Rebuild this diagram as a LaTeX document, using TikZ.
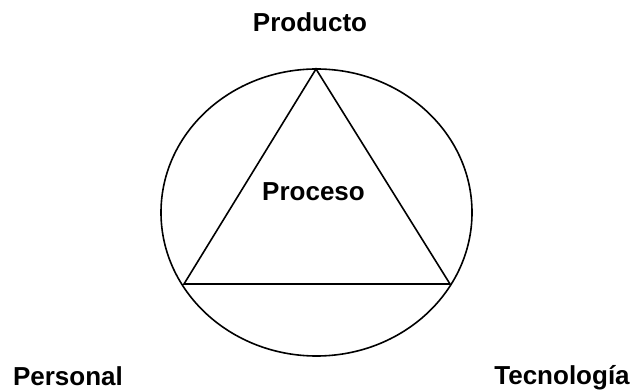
\documentclass[tikz,border=0pt]{standalone}
\usepackage{fontspec}
\setmainfont{Liberation Sans}
\usetikzlibrary{shapes.geometric}
\begin{document}
\begin{tikzpicture}
            [x=1pt, y=1pt, line width=1.6pt,
             label node/.style={anchor=base, inner sep=0pt, font=\fontsize{26}{30}\selectfont\bfseries}]
            \useasboundingbox (0,0) rectangle (634,390);

            \node[draw, ellipse, minimum width=311pt, minimum height=287pt, inner sep=0pt] (circ) at (316.5,177.5) {};

            \coordinate (top) at (316,321);
            \coordinate (left) at (184,106);
            \coordinate (right) at (450,106);
            \draw (top) -- (left) -- (right) -- cycle;

            \node[label node] (producto) at (310,358) {Producto};
            \node[label node] (proceso) at (313.5,189) {Proceso};
            \node[label node] (personal) at (68,4) {Personal};
            \node[label node] (tecnologia) at (562,5) {Tecnología};
         \end{tikzpicture}
\end{document}
